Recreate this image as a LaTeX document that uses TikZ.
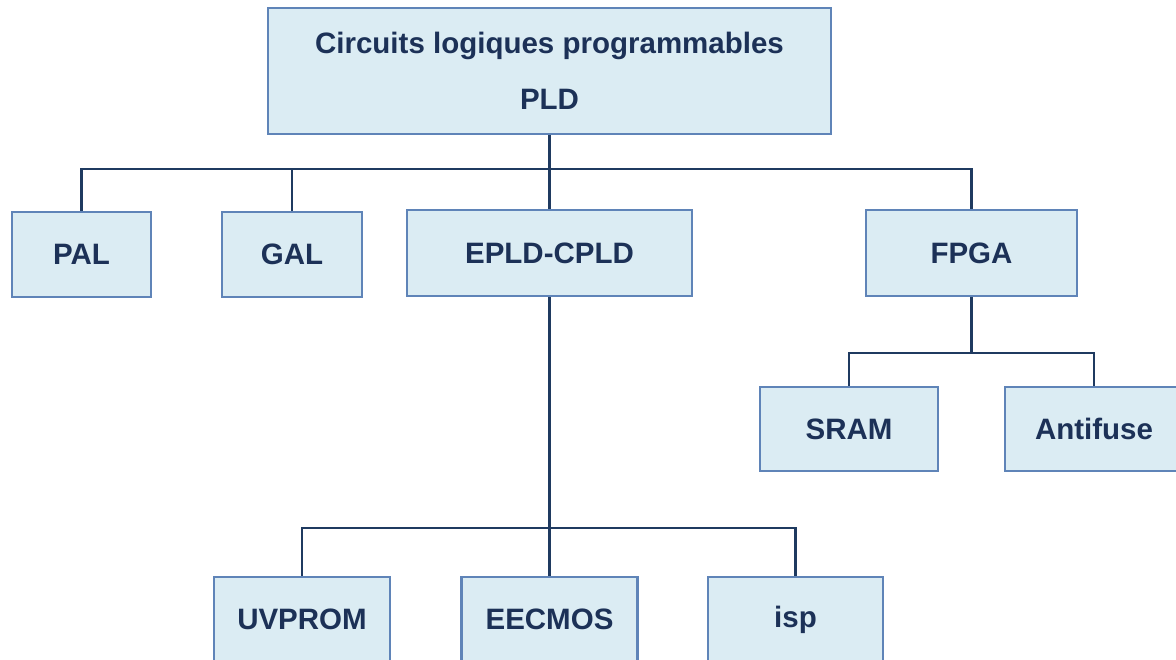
\documentclass[tikz,border=0pt]{standalone}
\usepackage{fontspec}
\setmainfont{Liberation Sans}
\definecolor{boxfill}{HTML}{DBECF3}
\definecolor{boxline}{HTML}{5F84B8}
\definecolor{connline}{HTML}{1F3A60}
\definecolor{txt}{HTML}{1C3157}
\begin{document}
\begin{tikzpicture}[x=1pt,y=-1pt,
  box/.style={draw=boxline,fill=boxfill,line width=2.8pt,rectangle,
    inner sep=0pt,text=txt,font=\fontsize{29.5}{56}\selectfont\bfseries,align=center},
  conn/.style={draw=connline,line width=2.8pt}]
\useasboundingbox (0,0) rectangle (1176,659);
\clip (0,0) rectangle (1176,659);
\node[box,minimum width=563pt,minimum height=126pt] (top) at (549.5,71) {Circuits logiques programmables\\PLD};
\node[box,minimum width=139pt,minimum height=85pt] (pal) at (81.5,254.5) {PAL};
\node[box,minimum width=140pt,minimum height=85pt] (gal) at (292,254.5) {GAL};
\node[box,minimum width=285pt,minimum height=86pt] (epld) at (549.5,253) {EPLD-CPLD};
\node[box,minimum width=211pt,minimum height=86pt] (fpga) at (971.5,253) {FPGA};
\node[box,minimum width=178pt,minimum height=84pt] (sram) at (849,429) {SRAM};
\node[box,minimum width=178pt,minimum height=84pt] (anti) at (1094,429) {Antifuse};
\node[box,minimum width=176pt,minimum height=85pt] (uvprom) at (302,619.5) {UVPROM};
\node[box,minimum width=176pt,minimum height=85pt] (eecmos) at (549.5,619.5) {EECMOS};
\node[box,minimum width=175pt,minimum height=85pt] (isp) at (795.5,619.5) {isp};
\coordinate (bus1) at (549.5,169);
\coordinate (bus2) at (971.5,353);
\coordinate (bus3) at (549.5,528);
% level 1
\draw[conn] (top.south) -- (epld.north);
\draw[conn] (pal.north) |- (bus1) -| (fpga.north);
\draw[conn] (gal.north) -- (gal.north |- bus1);
% FPGA
\draw[conn] (fpga.south) -- (bus2);
\draw[conn] (sram.north) |- (bus2) -| (anti.north);
% EPLD
\draw[conn] (epld.south) -- (eecmos.north);
\draw[conn] (uvprom.north) |- (bus3) -| (isp.north);
\end{tikzpicture}
\end{document}
